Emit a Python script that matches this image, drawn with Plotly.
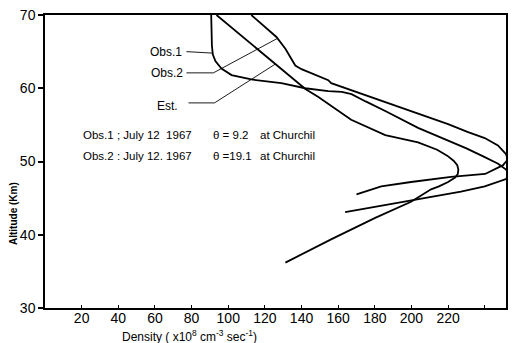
import plotly.graph_objects as go

# Data (density x10^8, altitude km)
obs1_density = [90.7, 90.8, 91.1, 91.6, 93.0, 96.3, 101.8, 112.6, 129.0, 142.0, 154.6, 162.0, 167.3, 175.0, 185.7, 203.6, 220.0, 230.0, 240.0, 247.3, 251.6, 253.2,
                251.6, 240.0, 227.0, 202.0, 185.0, 163.8]
obs1_altitude = [70.0, 67.4, 65.8, 64.6, 63.7, 62.7, 61.8, 61.2, 60.7, 60.0, 59.6, 59.5, 59.2, 58.2, 56.9, 54.6, 52.9, 51.8, 50.6, 49.7, 48.9, 48.3,
                 47.6, 46.6, 45.9, 44.8, 44.1, 43.1]

est_density = [93.6, 116.5, 142.1, 149.2, 167.1, 185.7, 203.6, 214.0, 219.5, 223.0, 225.0, 225.6, 225.3, 223.8, 220.0, 215.0, 210.7, 199.8, 180.2, 156.4, 131.2]
est_altitude = [70.0, 65.2, 59.9, 58.8, 55.7, 53.6, 52.6, 51.6, 50.8, 50.1, 49.5, 48.9, 48.3, 47.8, 47.2, 46.6, 46.2, 44.5, 42.3, 39.4, 36.2]

obs2_density = [112.6, 126.3, 131.2, 134.5, 136.6, 140.0, 146.0, 154.6, 156.2, 187.8, 220.0, 230.9, 240.0, 247.2, 251.6, 252.7,
                250.0, 240.2, 221.6, 199.8, 183.5, 170.0]
obs2_altitude = [70.0, 67.0, 65.4, 64.0, 63.1, 62.6, 62.0, 61.1, 60.7, 57.9, 55.1, 54.0, 53.2, 52.2, 51.0, 50.3,
                 49.5, 48.3, 47.9, 47.2, 46.6, 45.5]

x_tick_vals = [20, 40, 60, 80, 100, 120, 140, 160, 180, 200, 220, 240]
x_tick_text = ["20", "40", "60", "80", "100", "120", "140", "160", "180", "200", "220", ""]
y_tick_vals = [30, 40, 50, 60, 70]

# Leader lines for curve labels
obs1_leader_x = [77.2, 91.2]
obs1_leader_y = [65.0, 64.8]
obs2_leader_x = [77.2, 91.9, 126.8]
obs2_leader_y = [62.1, 62.1, 66.8]
est_leader_x = [78.3, 92.5, 125.7]
est_leader_y = [58.0, 58.0, 63.3]

labels = ["Obs.1", "Obs.2", "Est."]
label_x = [76.0, 76.6, 73.5]
label_y = [65.0, 62.05, 57.6]

info_lines = [["Obs.1 ; July 12  1967", "θ = 9.2", "at Churchil"],
              ["Obs.2 : July 12. 1967", "θ =19.1", "at Churchil"]]
info_y = [53.6, 50.75]
info_x = [19.5, 90.5, 116.5]

FONT = "Liberation Sans, Arial, sans-serif"

fig = go.Figure()
for xs, ys in [(obs1_density, obs1_altitude), (est_density, est_altitude), (obs2_density, obs2_altitude)]:
    fig.add_trace(go.Scatter(x=xs, y=ys, mode="lines", line=dict(color="black", width=1.8),
                             showlegend=False, hoverinfo="skip"))
for xs, ys in [(obs1_leader_x, obs1_leader_y), (obs2_leader_x, obs2_leader_y), (est_leader_x, est_leader_y)]:
    fig.add_trace(go.Scatter(x=xs, y=ys, mode="lines", line=dict(color="black", width=0.9),
                             showlegend=False, hoverinfo="skip"))

annotations = []
for t, x, y in zip(labels, label_x, label_y):
    annotations.append(dict(x=x, y=y, xref="x", yref="y", text=t, showarrow=False, xanchor="right",
                            yanchor="middle", font=dict(family=FONT, size=12, color="black")))
for row, y in zip(info_lines, info_y):
    for t, x in zip(row, info_x):
        annotations.append(dict(x=x, y=y, xref="x", yref="y", text=t, showarrow=False, xanchor="left",
                                yanchor="middle", font=dict(family=FONT, size=11.5, color="black")))
annotations.append(dict(x=0.313, y=-0.097, xref="paper", yref="paper",
                        text="Density ( x10<sup>8</sup> cm<sup>-3</sup> sec<sup>-1</sup>)",
                        showarrow=False, xanchor="center", yanchor="middle",
                        font=dict(family=FONT, size=12, color="black")))
annotations.append(dict(x=-0.068, y=0.323, xref="paper", yref="paper", text="<b>Altitude (Km)</b>",
                        textangle=-90, showarrow=False, xanchor="center", yanchor="middle",
                        font=dict(family=FONT, size=10, color="black")))

fig.update_layout(
    width=515, height=343,
    margin=dict(l=45, r=7, t=11, b=35),
    paper_bgcolor="white", plot_bgcolor="white",
    annotations=annotations,
    xaxis=dict(range=[0, 251.6], tickvals=x_tick_vals, ticktext=x_tick_text, ticks="inside", ticklen=3,
               tickcolor="black", showline=True, linecolor="black", linewidth=1.5, mirror=True,
               showgrid=False, zeroline=False, ticklabelstandoff=-4,
               tickfont=dict(family=FONT, size=14, color="black")),
    yaxis=dict(range=[30, 70], tickvals=y_tick_vals, ticks="outside", ticklen=5, tickwidth=1.5,
               tickcolor="black", showline=True, linecolor="black", linewidth=1.5, mirror=True,
               showgrid=False, zeroline=False,
               tickfont=dict(family=FONT, size=14, color="black")),
)

fig.write_html("out.html")
